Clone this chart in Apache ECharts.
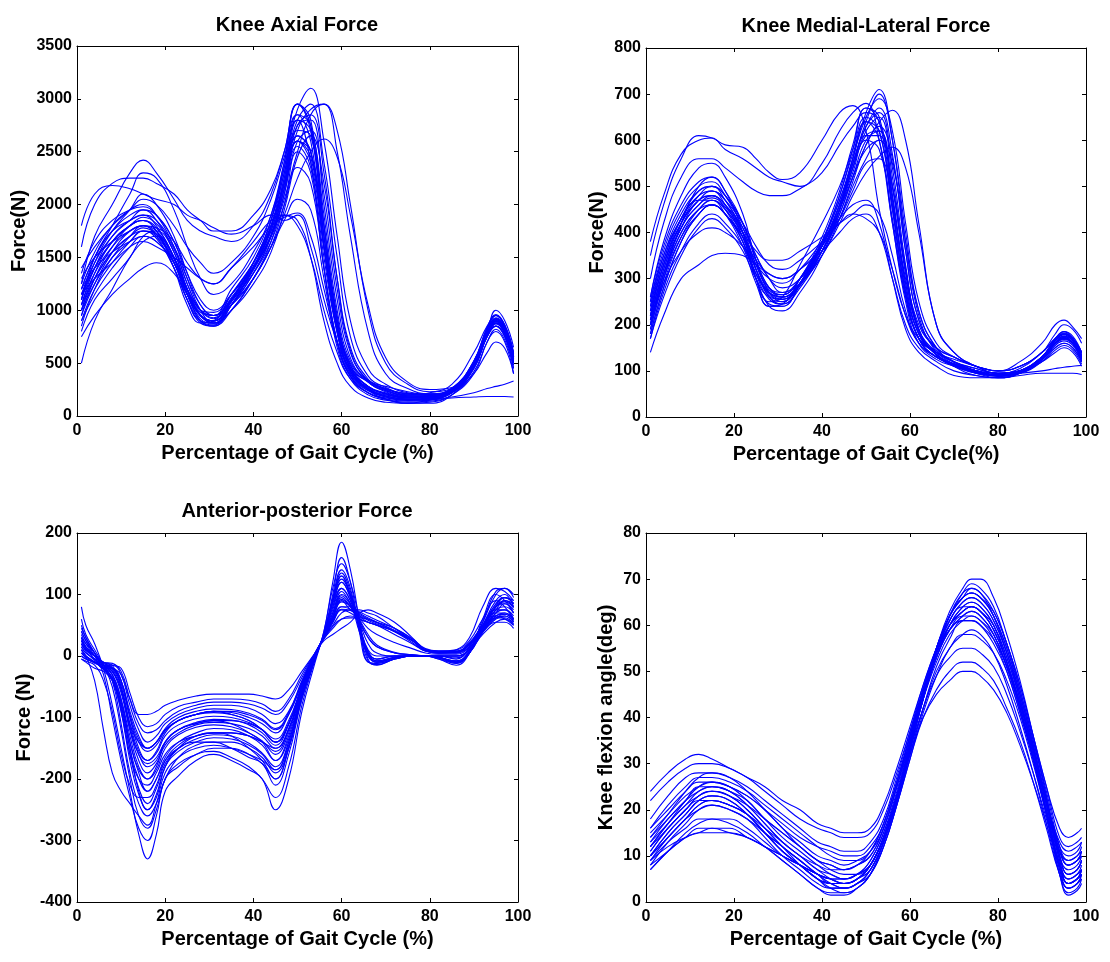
<!DOCTYPE html>
<html>
<head>
<meta charset="utf-8">
<script src="https://cdn.jsdelivr.net/npm/echarts@6/dist/echarts.min.js"></script>
<style>
  html, body { margin: 0; padding: 0; background: #fff; }
  #chart { width: 1110px; height: 962px; }
</style>
</head>
<body>
<div id="chart"></div>
<script>
// ---- Gait-cycle samples (% of cycle) for each panel ----
const GAIT_X_FORCE = [1,4,8,12,15,18,22,25,28,31,35,40,44,47,50,53,56,59,62,66,70,75,80,85,90,93,95,97,99];
const GAIT_X_AP = [1,2,4,6,8,10,12,14,16,18,20,23,27,31,35,39,42,45,48,51,54,56,58,60,62,64,66,68,72,76,79,82,86,89,92,95,97,99];
const GAIT_X_ANGLE = [1,5,9,12,15,19,23,27,31,35,39,42,45,48,51,54,57,60,63,66,69,72,74,76,79,82,85,88,91,94,96,98,99];

// ---- Knee axial force (N), one row per trial ----
const AXIAL_FORCE = [
  [1800,2100,2180,2150,2100,2050,2000,1900,1850,1780,1720,1800,1900,1850,1900,1600,1100,700,450,330,280,230,200,250,500,750,850,750,500],
  [1250,1700,2000,2300,2420,2300,2050,1850,1750,1700,1650,1800,2100,2500,2950,2700,1700,900,500,330,260,200,220,300,600,850,950,850,600],
  [1100,1450,1750,1950,2100,2000,1700,1350,1050,950,1200,1500,1900,2400,2900,3100,2600,1700,900,450,300,220,200,260,500,800,900,800,550],
  [950,1300,1600,1800,1850,1750,1400,1050,880,900,1150,1450,1750,2200,2700,2900,2950,2500,1700,800,400,260,210,250,480,780,880,780,520],
  [1050,1400,1700,1850,1900,1800,1500,1200,1000,950,1100,1400,1700,2050,2500,2850,2950,2700,2000,1000,500,300,230,260,480,780,900,800,550],
  [1000,1350,1650,1800,1850,1750,1450,1150,950,900,1050,1300,1600,1900,2250,2500,2620,2450,1900,1050,550,320,250,270,470,750,870,780,520],
  [500,900,1200,1500,1650,1700,1500,1200,1000,980,1150,1400,1700,2100,2600,2400,1600,850,450,250,160,120,120,200,450,750,850,750,450],
  [800,1100,1300,1500,1700,1750,1550,1200,950,880,1000,1300,1600,2000,2500,2300,1400,700,380,220,160,120,130,200,420,700,820,720,450],
  [1200,1500,1750,1850,1900,1850,1600,1300,1050,950,1050,1300,1600,1850,2050,1950,1300,650,350,200,150,130,140,200,400,700,800,700,400],
  [1300,1500,1650,1750,1800,1780,1650,1450,1300,1250,1400,1600,1800,1880,1920,1700,1200,700,400,250,190,160,160,180,220,260,280,300,330],
  [900,1150,1400,1600,1700,1650,1450,1150,950,900,1100,1400,1700,1900,1850,1500,900,500,280,170,130,120,150,170,180,185,185,185,180],
  [1400,1600,1800,1950,2050,2000,1800,1600,1450,1350,1450,1700,2050,2450,2850,2750,1900,1000,520,340,260,210,210,260,520,820,920,830,580],
  [1150,1450,1700,1850,1950,1900,1650,1300,1000,880,1000,1250,1550,1950,2450,2650,2200,1300,650,350,250,200,200,250,480,780,880,790,500],
  [1100,1500,1800,2100,2300,2250,1950,1600,1300,1150,1250,1550,1900,2350,2800,2950,2400,1500,750,380,270,210,200,240,480,800,1000,900,650],
  [1200,1400,1550,1650,1700,1650,1450,1200,1000,950,1100,1350,1650,2000,2350,2200,1400,700,370,220,160,140,150,230,470,760,850,760,480],
  [1150,1300,1450,1600,1650,1600,1500,1400,1300,1250,1400,1650,1850,1900,1800,1500,1000,600,350,220,170,150,160,220,400,600,700,640,400],
  [750,950,1150,1300,1400,1450,1350,1150,980,950,1150,1450,1800,2200,2650,2500,1600,800,420,250,180,150,160,230,460,760,880,780,500],
  [1600,2000,2200,2250,2250,2200,2100,1950,1850,1750,1750,1900,2150,2500,2950,2800,1800,900,480,320,250,210,200,260,520,830,950,860,600],
  [1050,1350,1600,1750,1800,1700,1400,1100,900,880,1100,1450,1850,2350,2850,2600,1600,800,420,260,200,170,180,240,500,820,950,850,580],
  [950,1250,1550,1750,1800,1720,1450,1100,880,850,1050,1400,1800,2300,2750,2800,2000,1100,550,320,240,190,190,250,480,780,900,820,560],
  [1200,1500,1750,1900,1950,1850,1550,1200,950,900,1100,1450,1850,2300,2800,2400,1400,700,380,240,190,160,170,230,460,780,920,830,560],
  [1000,1300,1550,1700,1750,1680,1400,1100,900,860,1050,1350,1700,2150,2600,2500,1700,900,450,280,210,180,190,250,500,800,920,820,550],
  [1100,1400,1650,1800,1850,1780,1500,1150,920,870,1050,1400,1750,2200,2700,2650,1800,950,480,280,210,170,180,240,490,800,930,840,570],
  [850,1200,1500,1700,1800,1750,1500,1150,900,850,1000,1300,1650,2100,2600,2700,2100,1200,600,330,230,180,170,220,450,760,880,800,540],
  [1250,1550,1800,1950,2000,1900,1600,1250,1000,920,1100,1450,1850,2400,2950,2750,1700,850,450,280,220,180,190,250,520,840,960,860,590],
  [1000,1250,1500,1650,1750,1700,1450,1150,950,900,1080,1380,1720,2150,2550,2350,1500,780,400,240,180,150,160,220,460,770,890,800,530],
  [1150,1400,1650,1800,1880,1820,1580,1250,1000,930,1120,1420,1780,2250,2750,2850,2300,1300,620,330,240,190,190,250,500,810,920,830,560],
  [1350,1650,1850,1950,1980,1900,1650,1350,1100,1000,1150,1450,1800,2200,2600,2450,1600,820,420,270,210,180,185,240,490,800,910,820,550],
  [900,1200,1450,1650,1750,1720,1500,1200,950,880,1050,1350,1700,2150,2650,2500,1600,820,430,260,190,155,165,225,470,780,900,810,540],
  [1050,1300,1550,1700,1780,1720,1480,1180,960,900,1080,1400,1780,2250,2800,2700,1800,900,460,280,210,170,175,235,480,790,910,820,560]
];

// ---- Knee medial-lateral force (N) ----
const ML_FORCE = [
  [350,460,560,610,605,590,585,560,530,515,530,600,660,675,620,450,320,220,170,140,125,110,100,110,140,170,180,170,140],
  [380,480,570,600,605,580,560,540,520,510,500,550,620,660,680,600,420,260,170,140,120,105,95,105,140,170,185,170,140],
  [300,420,520,560,560,540,510,490,480,480,495,530,590,630,660,640,500,320,200,150,130,110,100,110,140,170,180,170,140],
  [220,330,420,470,480,450,380,300,250,260,330,420,500,580,650,620,450,270,170,130,115,100,90,100,130,160,170,160,130],
  [200,300,400,450,470,440,370,290,240,245,300,380,470,550,640,700,600,400,230,150,120,100,90,100,130,165,175,160,130],
  [230,330,420,470,490,470,400,320,260,250,290,370,450,520,590,640,665,600,420,200,140,110,95,100,130,160,175,165,130],
  [220,310,400,450,460,440,380,310,270,260,290,350,420,480,530,565,585,540,400,200,140,110,95,100,125,150,160,150,120],
  [140,220,300,330,350,355,350,330,310,300,320,360,400,430,440,400,300,200,150,120,100,90,85,95,120,145,155,145,115],
  [180,280,380,440,460,440,380,300,240,230,270,350,450,560,660,710,600,380,220,140,110,90,85,95,125,160,170,160,120],
  [250,350,430,480,490,470,420,370,330,320,340,380,420,440,430,400,320,220,160,130,110,100,95,100,120,140,150,140,110],
  [200,290,360,400,410,400,370,330,300,290,320,380,430,460,470,420,300,190,140,110,90,85,85,90,95,95,95,95,92],
  [260,380,480,540,550,520,440,340,270,250,290,370,460,560,650,690,620,420,250,160,130,110,100,110,140,180,200,190,160],
  [210,320,420,480,500,480,420,350,300,280,300,360,430,500,560,600,550,380,230,150,120,105,95,100,130,170,185,175,140],
  [190,300,420,500,520,490,400,300,240,240,290,380,480,580,670,650,480,280,180,140,120,100,90,100,130,170,180,170,140],
  [240,340,430,470,470,450,400,360,340,340,360,390,420,440,460,440,350,230,160,130,115,100,90,95,125,160,175,165,130],
  [170,270,360,420,440,420,370,310,270,260,290,360,440,520,600,620,480,290,180,135,110,95,90,95,120,150,160,150,120],
  [200,310,410,470,480,460,410,350,300,270,290,350,430,510,590,630,560,360,210,150,130,110,100,120,160,200,210,195,170],
  [210,300,390,440,460,440,390,340,310,300,320,370,430,490,550,560,460,300,190,140,115,95,90,95,100,105,108,110,112],
  [230,340,430,480,490,460,390,300,245,240,290,380,480,570,640,600,420,250,160,125,110,95,85,95,125,160,170,160,125],
  [190,290,390,450,470,450,390,310,255,245,285,370,460,550,630,660,540,330,190,135,115,100,90,100,130,165,180,170,135],
  [250,360,450,500,510,480,410,330,280,270,300,370,450,530,600,580,430,260,170,130,115,100,92,100,128,160,172,160,128],
  [170,260,350,410,430,410,360,300,260,255,290,360,440,520,580,600,500,320,190,135,112,98,90,98,125,158,168,158,125],
  [240,350,440,490,500,470,400,320,265,255,300,390,490,590,670,640,460,270,170,130,115,100,90,100,130,165,178,165,130],
  [200,310,410,460,480,460,400,320,260,245,280,360,450,540,620,650,520,320,190,135,112,97,88,97,125,160,172,160,125],
  [260,370,460,510,520,490,420,340,280,265,300,380,470,560,640,620,450,270,170,130,115,100,92,100,130,165,180,168,132],
  [180,280,380,440,460,440,390,320,270,255,285,360,450,540,610,620,500,310,185,135,112,97,88,97,123,155,165,155,122],
  [220,330,430,490,500,480,420,340,280,260,290,370,460,550,630,670,570,360,210,145,118,100,90,100,130,168,182,170,135],
  [210,320,410,460,475,455,400,330,275,265,300,375,460,540,610,610,470,290,180,135,115,100,90,98,126,160,172,160,127]
];

// ---- Anterior-posterior force (N) ----
const AP_FORCE = [
  [80,50,20,-20,-80,-150,-220,-290,-330,-290,-220,-195,-170,-160,-170,-185,-200,-250,-200,-90,-10,40,110,150,120,60,-10,-12,-5,0,0,-5,-15,5,60,100,90,70],
  [30,20,5,-30,-100,-170,-230,-280,-300,-260,-200,-180,-160,-155,-165,-180,-200,-230,-180,-80,-5,40,120,185,140,60,-5,-15,-5,0,0,-5,-12,5,50,90,100,80],
  [-5,-10,-20,-25,-40,-80,-150,-220,-250,-230,-180,-150,-130,-125,-130,-150,-170,-200,-150,-70,-5,35,90,130,100,60,30,15,5,2,0,-2,-10,5,45,80,85,70],
  [20,10,0,-15,-30,-70,-130,-180,-200,-180,-140,-120,-110,-105,-110,-125,-140,-170,-130,-60,0,35,80,110,90,50,10,0,0,0,0,0,0,10,40,70,75,60],
  [40,25,0,-20,-20,-40,-100,-150,-170,-155,-125,-105,-95,-90,-95,-105,-120,-140,-110,-50,5,30,60,90,75,65,55,50,35,20,8,5,5,15,40,60,65,55],
  [0,-5,-10,-15,-15,-30,-80,-120,-140,-130,-110,-95,-85,-80,-80,-85,-95,-110,-90,-40,5,30,55,75,70,60,55,50,40,25,10,8,8,20,45,65,60,50],
  [30,15,0,-10,-15,-20,-60,-100,-115,-110,-95,-82,-75,-70,-70,-72,-78,-90,-70,-30,5,28,45,60,65,60,55,50,40,25,10,8,10,25,60,90,80,60],
  [10,0,-10,-15,-20,-30,-70,-95,-95,-90,-80,-72,-65,-62,-62,-62,-65,-70,-55,-25,5,25,35,45,55,70,75,70,55,30,10,5,10,30,80,110,105,90],
  [15,5,-5,-20,-40,-90,-160,-200,-210,-190,-160,-140,-130,-125,-125,-130,-140,-155,-120,-55,0,30,50,70,75,75,70,65,45,25,8,5,5,20,50,70,70,60],
  [50,30,5,-15,-40,-110,-190,-240,-260,-240,-200,-165,-145,-140,-140,-150,-165,-190,-150,-65,-3,35,95,140,110,40,-10,-12,-5,0,0,-3,-10,5,40,75,90,85],
  [-5,-8,-15,-40,-90,-160,-210,-230,-230,-210,-170,-145,-130,-125,-125,-130,-140,-150,-120,-55,0,32,70,100,85,40,5,-5,0,0,0,0,-5,15,55,100,110,100],
  [25,15,0,-10,-15,-50,-110,-140,-150,-140,-120,-105,-95,-90,-92,-100,-110,-125,-95,-45,3,30,65,95,80,55,30,15,5,2,0,0,0,10,35,55,60,50],
  [35,20,0,-15,-25,-60,-120,-160,-180,-170,-140,-120,-110,-105,-105,-110,-120,-135,-105,-48,3,32,70,105,85,55,20,5,0,0,0,0,0,12,45,75,80,70],
  [5,0,-10,-20,-30,-70,-140,-190,-220,-200,-170,-150,-140,-140,-150,-165,-175,-210,-160,-70,-5,35,85,120,95,45,0,-10,-3,0,0,-2,-8,8,50,85,95,90],
  [10,0,-40,-120,-190,-220,-240,-260,-275,-240,-190,-165,-150,-145,-150,-160,-170,-185,-140,-60,0,35,90,130,100,50,5,-8,-2,0,0,-2,-10,5,40,70,85,75],
  [20,10,0,-10,-12,-25,-70,-110,-125,-120,-105,-90,-80,-75,-75,-78,-85,-95,-75,-35,5,28,48,60,62,62,60,55,45,28,10,6,6,18,40,55,55,45],
  [60,35,10,-15,-50,-120,-200,-260,-280,-250,-200,-175,-160,-150,-150,-160,-175,-200,-150,-65,0,35,100,160,120,45,-8,-14,-5,0,0,-3,-12,5,55,105,110,95],
  [0,-5,-10,-15,-20,-40,-90,-130,-150,-140,-120,-105,-95,-92,-95,-105,-120,-140,-110,-50,3,30,58,80,80,72,65,58,45,28,12,8,8,22,50,75,75,65],
  [45,30,5,-15,-30,-80,-150,-200,-220,-200,-165,-140,-125,-118,-120,-130,-145,-170,-135,-60,0,33,80,120,95,50,5,-8,-2,0,0,-2,-8,8,45,80,90,80],
  [15,5,-5,-15,-25,-55,-120,-170,-190,-175,-145,-125,-112,-108,-110,-118,-130,-150,-118,-52,2,32,62,88,82,70,62,55,40,22,8,5,6,18,42,62,65,55],
  [25,12,-5,-20,-35,-85,-160,-215,-240,-215,-175,-150,-135,-128,-130,-142,-158,-180,-140,-62,-2,34,88,125,98,48,2,-10,-3,0,0,-2,-10,6,48,85,95,85],
  [30,15,0,-15,-22,-50,-110,-155,-170,-158,-130,-112,-102,-98,-100,-108,-120,-140,-110,-50,2,31,62,92,80,62,45,35,22,12,5,3,3,14,40,65,70,60],
  [10,0,-10,-20,-35,-75,-140,-185,-200,-185,-150,-128,-116,-112,-115,-125,-138,-160,-125,-56,0,33,75,110,90,50,8,-5,0,0,0,0,-3,10,45,80,88,78],
  [40,25,5,-12,-20,-45,-100,-140,-155,-145,-122,-105,-95,-90,-90,-96,-105,-120,-95,-44,4,30,56,80,76,68,60,54,42,26,10,6,7,18,44,66,68,58],
  [20,8,-8,-22,-38,-90,-170,-225,-250,-225,-180,-155,-140,-133,-135,-145,-160,-185,-145,-64,-2,35,92,135,105,48,0,-10,-3,0,0,-2,-10,6,46,82,95,86],
  [5,-3,-12,-18,-25,-55,-115,-160,-175,-165,-140,-120,-108,-103,-104,-112,-125,-145,-112,-50,2,31,65,98,84,60,35,18,6,2,0,0,0,10,38,62,68,58],
  [25,12,0,-12,-18,-40,-95,-135,-150,-140,-118,-100,-90,-86,-87,-93,-103,-118,-92,-42,4,29,54,76,74,66,58,52,40,25,10,7,7,18,42,62,62,52]
];

// ---- Knee flexion angle (deg) ----
const FLEXION_ANGLE = [
  [24,28,31,32,31,29,27,24,21,18,16,15,14,14,15,20,28,37,46,54,62,67,68,67,62,54,45,34,22,13,11,12,13],
  [22,26,29,30,30,29,27,25,22,20,17,16,15,15,16,21,29,38,47,55,62,67,69,68,64,56,47,36,25,16,14,15,16],
  [12,17,22,25,26,25,22,18,14,11,8,6,5,6,8,14,23,34,45,55,63,68,70,70,66,58,48,36,23,10,6,7,9],
  [10,15,19,22,23,22,19,15,11,8,5,4,3,4,7,13,22,33,44,53,60,64,65,64,60,52,42,31,19,7,3,4,6],
  [8,13,17,20,21,20,18,14,10,7,4,3,3,4,6,12,21,31,41,49,55,58,59,58,54,47,38,28,17,6,2,3,5],
  [15,19,23,25,26,25,23,20,17,14,12,11,10,10,12,17,26,36,46,54,60,64,65,64,60,53,44,33,22,11,9,10,11],
  [9,13,16,18,18,18,16,13,10,8,6,5,5,6,8,14,23,33,42,49,53,55,55,54,51,45,37,28,18,8,5,6,7],
  [7,11,14,16,16,16,14,12,9,6,3,2,2,3,6,12,21,31,40,46,50,52,52,51,48,42,35,26,16,6,3,4,5],
  [8,11,14,15,16,15,14,12,10,8,6,5,5,6,9,15,23,32,40,45,48,50,50,49,46,41,34,26,17,8,5,6,7],
  [14,19,24,27,28,27,24,20,16,12,9,7,6,6,8,14,23,34,45,55,62,66,67,66,62,55,46,35,24,12,8,9,11],
  [11,16,20,23,24,23,20,16,12,8,5,3,2,3,6,13,22,33,44,54,61,65,66,65,61,54,45,34,22,9,4,5,7],
  [13,17,21,23,24,23,21,18,15,12,9,8,7,8,10,16,25,35,45,53,59,62,62,61,58,51,42,32,21,10,7,8,10],
  [18,23,27,28,28,27,25,22,19,16,13,12,11,11,13,18,27,37,47,55,61,64,64,63,59,52,43,33,22,12,10,11,13],
  [10,14,18,20,21,20,18,15,12,9,6,4,3,4,7,13,22,33,44,53,59,62,63,62,58,51,42,31,19,6,1.5,2.5,4],
  [9,12,14,15,15,15,14,12,10,8,6,5,4,5,7,13,22,32,42,50,55,58,58,57,54,48,40,30,19,8,4,5,6],
  [16,21,25,27,27,26,24,21,18,15,12,10,9,9,11,16,25,36,46,55,62,66,67,66,63,56,47,36,25,14,12,13,14],
  [7,11,15,17,18,17,15,12,9,6,3,1.5,1.5,3,6,12,21,32,42,51,57,61,61,60,56,50,41,31,20,8,4,5,6],
  [12,16,20,22,22,21,19,16,13,10,8,7,7,8,11,17,26,36,46,54,59,61,61,60,57,51,43,33,22,11,8,9,10],
  [10,14,18,21,22,21,19,15,11,8,5,4,4,5,8,14,23,34,45,54,60,63,64,63,59,52,43,32,20,8,4,5,7],
  [13,18,22,25,25,24,21,17,13,10,7,6,5,6,9,15,24,35,46,55,62,66,67,66,62,55,45,34,22,10,6,7,9],
  [11,16,20,23,24,23,20,16,12,9,6,5,4,5,8,14,23,34,45,54,61,65,66,65,61,54,44,33,21,9,5,6,8],
  [14,18,22,24,25,24,22,18,15,12,9,8,7,8,10,16,25,35,46,54,60,63,64,63,60,53,44,33,22,11,8,9,11],
  [9,14,18,21,22,21,19,15,11,8,5,3,3,4,7,13,22,33,44,53,59,62,63,62,58,51,42,31,19,7,3,4,6],
  [12,17,21,24,25,24,21,17,13,10,7,5,4,5,8,14,23,34,45,55,62,66,68,67,63,56,46,35,23,10,6,7,9],
  [16,20,24,26,26,25,23,20,16,13,10,9,8,9,11,17,26,36,46,54,60,63,64,63,59,52,43,33,22,12,9,10,12],
  [10,15,19,22,23,22,19,15,12,9,6,4,4,5,8,14,23,34,44,52,58,61,62,61,57,50,41,31,20,8,4,5,7]
];

// ---- Panel titles and axis labels ----
const PANEL_TITLES = ['Knee Axial Force', 'Knee Medial-Lateral Force', 'Anterior-posterior Force', ''];
const X_NAMES = ['Percentage of Gait Cycle (%)', 'Percentage of Gait Cycle(%)', 'Percentage of Gait Cycle (%)', 'Percentage of Gait Cycle (%)'];
const Y_NAMES = ['Force(N)', 'Force(N)', 'Force (N)', 'Knee flexion angle(deg)'];
const Y_RANGES = [[0, 3500, 500], [0, 800, 100], [-400, 200, 100], [0, 80, 10]];

const FONT = '"Liberation Sans", Arial, Helvetica, sans-serif';
const LINE_BLUE = '#0000ff';

// Plot-box geometry for the 2x2 layout
const GRIDS = [
  { left: 77,  top: 46,  width: 441, height: 370 },
  { left: 646, top: 48,  width: 440, height: 369 },
  { left: 77,  top: 533, width: 441, height: 369 },
  { left: 646, top: 533, width: 440, height: 369 }
];
const TITLE_POS = [[297, 25], [866, 26], [297, 511]];
const Y_NAME_GAP = [48, 39, 43, 30];

const panels = [
  { xs: GAIT_X_FORCE, rows: AXIAL_FORCE },
  { xs: GAIT_X_FORCE, rows: ML_FORCE },
  { xs: GAIT_X_AP, rows: AP_FORCE },
  { xs: GAIT_X_ANGLE, rows: FLEXION_ANGLE }
];

const boldLabel = {
  color: '#000', fontWeight: 'bold', fontSize: 16, fontFamily: FONT,
  formatter: v => String(v)
};
const blackLine = { color: '#000', width: 1 };

const xAxes = [], yAxes = [], series = [];
panels.forEach((p, i) => {
  const [ymin, ymax, ystep] = Y_RANGES[i];
  // bottom axis with labels, plus a mirrored top axis that only carries ticks
  xAxes.push({
    type: 'value', gridIndex: i, min: 0, max: 100, interval: 20, position: 'bottom',
    axisLine: { show: true, onZero: false, lineStyle: blackLine },
    axisTick: { show: true, inside: true, length: 4, lineStyle: blackLine },
    axisLabel: Object.assign({ margin: 7 }, boldLabel),
    splitLine: { show: false },
    name: X_NAMES[i], nameLocation: 'middle', nameGap: 27,
    nameTextStyle: { color: '#000', fontWeight: 'bold', fontSize: 20, fontFamily: FONT }
  });
  xAxes.push({
    type: 'value', gridIndex: i, min: 0, max: 100, interval: 20, position: 'top',
    axisLine: { show: true, onZero: false, lineStyle: blackLine },
    axisTick: { show: true, inside: true, length: 4, lineStyle: blackLine },
    axisLabel: { show: false }, splitLine: { show: false }
  });
  // left axis with labels, plus a mirrored right axis that only carries ticks
  yAxes.push({
    type: 'value', gridIndex: i, min: ymin, max: ymax, interval: ystep, position: 'left',
    axisLine: { show: true, onZero: false, lineStyle: blackLine },
    axisTick: { show: true, inside: true, length: 4, lineStyle: blackLine },
    axisLabel: Object.assign({ margin: 5 }, boldLabel),
    splitLine: { show: false },
    name: Y_NAMES[i], nameLocation: 'middle', nameRotate: 90, nameGap: Y_NAME_GAP[i],
    nameTextStyle: { color: '#000', fontWeight: 'bold', fontSize: 20, fontFamily: FONT }
  });
  yAxes.push({
    type: 'value', gridIndex: i, min: ymin, max: ymax, interval: ystep, position: 'right',
    axisLine: { show: true, onZero: false, lineStyle: blackLine },
    axisTick: { show: true, inside: true, length: 4, lineStyle: blackLine },
    axisLabel: { show: false }, splitLine: { show: false }
  });
  p.rows.forEach(row => {
    series.push({
      type: 'line',
      xAxisIndex: i * 2, yAxisIndex: i * 2,
      data: p.xs.map((x, j) => [x, row[j]]),
      showSymbol: false, symbol: 'none',
      smooth: 0.45,
      clip: true, silent: true,
      lineStyle: { color: LINE_BLUE, width: 1.1 }
    });
  });
});

const titles = TITLE_POS.map((pos, i) => ({
  type: 'text', x: pos[0], y: pos[1],
  style: {
    text: PANEL_TITLES[i], fill: '#000', textAlign: 'center', textVerticalAlign: 'middle',
    font: 'bold 20px ' + FONT
  }
}));

const chart = echarts.init(document.getElementById('chart'), null, { renderer: 'canvas' });
chart.setOption({
  animation: false,
  backgroundColor: '#ffffff',
  grid: GRIDS.map(g => Object.assign({ containLabel: false }, g)),
  xAxis: xAxes,
  yAxis: yAxes,
  series: series,
  graphic: titles
});
</script>
</body>
</html>
